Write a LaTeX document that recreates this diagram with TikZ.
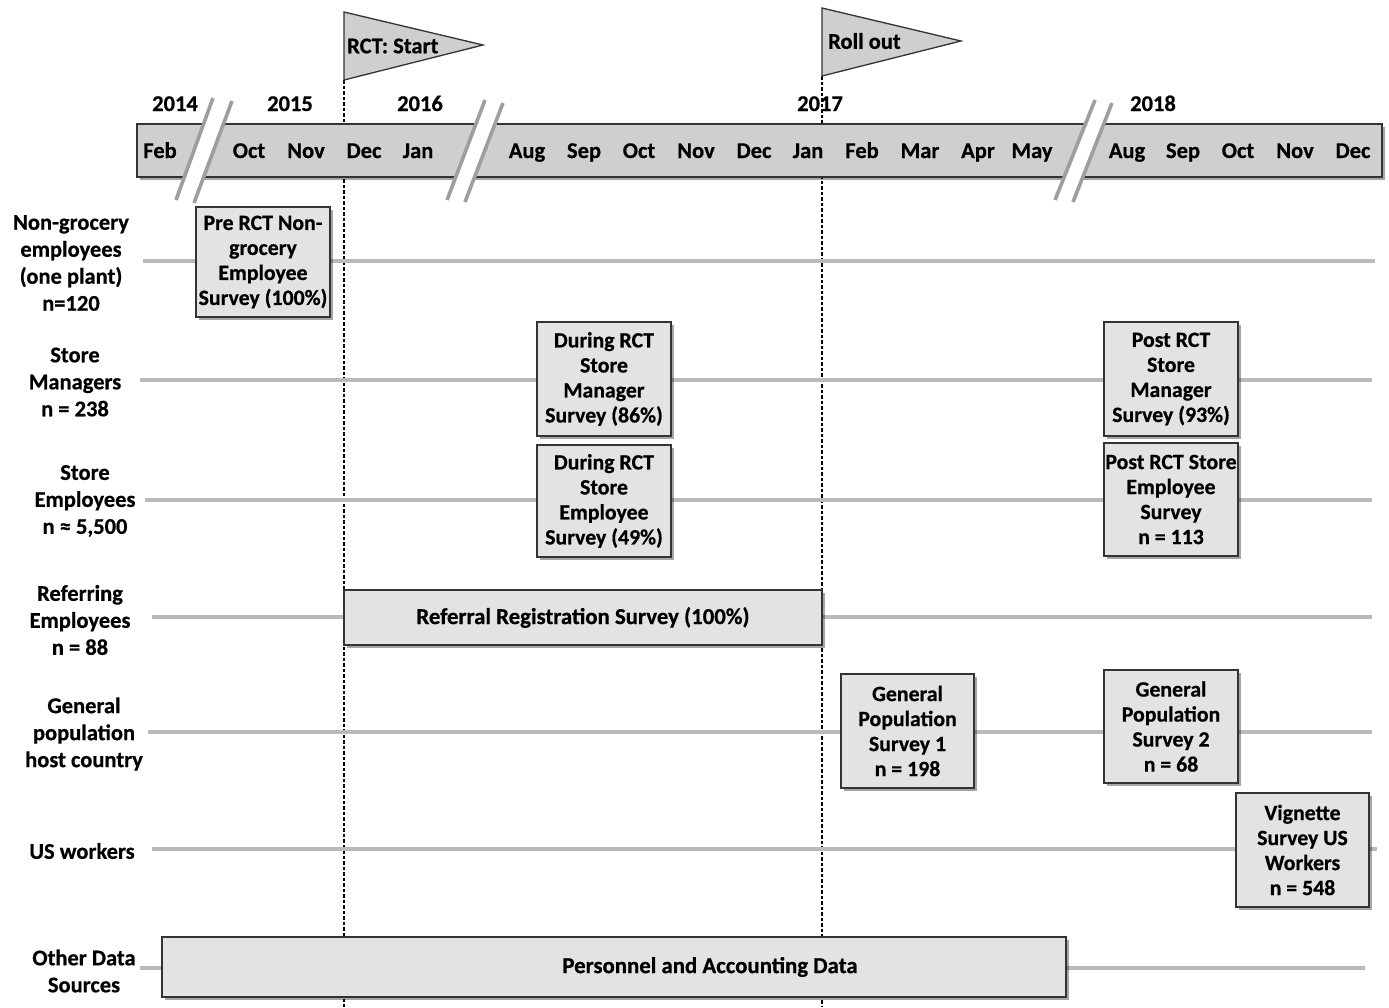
\documentclass[tikz,border=0pt]{standalone}
\usepackage{fontspec}
\setmainfont{Carlito}[BoldFeatures={FakeBold=0.6}]
\usepackage{xcolor}
\usepackage{tikz}
\usetikzlibrary{positioning,calc,shadows}

\definecolor{barfill}{gray}{0.81}
\definecolor{boxfill}{gray}{0.89}
\definecolor{rowgray}{gray}{0.73}
\definecolor{breakgray}{gray}{0.62}
\definecolor{edgegray}{gray}{0.2}

\tikzset{
  txt/.style={font=\fontsize{22.5}{25}\selectfont\bfseries},
  survey/.style={font=\fontsize{21.8}{25}\selectfont\bfseries, draw=edgegray, line width=1.6pt,
    fill=boxfill, align=center, inner sep=0.5pt,
    drop shadow={shadow xshift=2.5pt, shadow yshift=-2.5pt, opacity=0.35, fill=black}},
  rowlab/.style={font=\fontsize{22.5}{27}\selectfont\bfseries, align=center, inner sep=0pt},
  month/.style={txt, text height=15pt, text depth=5pt, inner sep=0pt},
  rowline/.style={rowgray, line width=3.2pt},
  rctline/.style={black, line width=1.2pt, dash pattern=on 3.5pt off 2pt},
  flag/.style={draw=edgegray, line width=1.3pt, fill=barfill},
  brk/.style={breakgray, line width=3.6pt}
}

\begin{document}
\begin{tikzpicture}[x=1pt,y=-1pt]
  \useasboundingbox (0,0) rectangle (1389,1007);

  % dashed markers
  \coordinate (rcttop) at (344,80);  \coordinate (rctbot) at (344,1007);
  \coordinate (rolltop) at (822,76); \coordinate (rollbot) at (822,1007);
  \draw[rctline] (rcttop) -- (rctbot);
  \draw[rctline] (rolltop) -- (rollbot);

  % group rules
  \foreach \y/\a/\b [count=\i] in {261/143/1375, 380/140/1372, 500/145/1372, 617/152/1372,
                                   732/148/1372, 849/152/1377, 968/140/1365}{
    \coordinate (rw\i) at (\a,\y);
    \coordinate (re\i) at (\b,\y);
    \draw[rowline] (rw\i) -- (re\i);
  }

  % time bar
  \node[draw=edgegray, line width=1.6pt, fill=barfill, minimum width=1245pt, minimum height=53pt,
        inner sep=0pt, drop shadow={shadow xshift=2.5pt, shadow yshift=-2.5pt, opacity=0.35, fill=black}]
        (bar) at (759.5,150.5) {};
  \foreach \x/\m in {160/Feb, 249/Oct, 306/Nov, 364/Dec, 418/Jan, 527/Aug, 584/Sep, 639/Oct,
                     696/Nov, 754/Dec, 808/Jan, 862/Feb, 920/Mar, 978/Apr, 1032/May,
                     1127/Aug, 1183/Sep, 1238/Oct, 1295/Nov, 1353/Dec}
    \node[month] (m\x) at (\x,153) {\m};
  \foreach \x/\yr in {175/2014, 290/2015, 420/2016, 820/2017, 1153/2018}
    \node[month] (yr\yr) at (\x,106) {\yr};

  % breaks
  \fill[white] (213,98) -- (232,101) -- (194,203) -- (176,200) -- cycle;
  \draw[brk] (213,98) -- (176,200);
  \draw[brk] (232,101) -- (194,203);
  \fill[white] (485,100) -- (503,103) -- (465,202) -- (447,200) -- cycle;
  \draw[brk] (485,100) -- (447,200);
  \draw[brk] (503,103) -- (465,202);
  \fill[white] (1095,100) -- (1112,103) -- (1073,202) -- (1055,200) -- cycle;
  \draw[brk] (1095,100) -- (1055,200);
  \draw[brk] (1112,103) -- (1073,202);

  % flags
  \draw[flag] (344,80) -- (344,12) -- (483,45) -- cycle;
  \node[txt, anchor=west, inner sep=0pt] (rctstart) at (347,46) {RCT: Start};
  \draw[flag] (822,76) -- (822,8) -- (961,41) -- cycle;
  \node[txt, anchor=west, inner sep=0pt] (rollout) at (828,41) {Roll out};

  % groups
  \node[rowlab] (ngroc) at (71,263) {Non-grocery\\employees\\(one plant)\\n=120};
  \node[rowlab] (smgr) at (75,382) {Store\\Managers\\n = 238};
  \node[rowlab] (semp) at (85,501) {Store\\Employees\\n ≈ 5,500};
  \node[rowlab] (refemp) at (80,620) {Referring\\Employees\\n = 88};
  \node[rowlab] (genpop) at (84,734) {General\\population\\host country};
  \node[rowlab] (usw) at (82,851) {US workers};
  \node[rowlab] (other) at (84,971) {Other Data\\Sources};

  % surveys
  \node[survey, minimum width=134pt, minimum height=110pt] (prerct) at (263,262)
    {Pre RCT Non-\\grocery\\Employee\\Survey (100\%)};
  \node[survey, minimum width=134pt, minimum height=114pt] (dursm) at (604,379)
    {During RCT\\Store\\Manager\\Survey (86\%)};
  \node[survey, minimum width=134pt, minimum height=112pt] (durse) at (604,501)
    {During RCT\\Store\\Employee\\Survey (49\%)};
  \node[survey, minimum width=134pt, minimum height=114pt] (postsm) at (1171,379)
    {Post RCT\\Store\\Manager\\Survey (93\%)};
  \node[survey, minimum width=134pt, minimum height=113pt] (postse) at (1171,499.5)
    {Post RCT Store\\Employee\\Survey\\n = 113};
  \node[survey, font=\fontsize{22.8}{25}\selectfont\bfseries, minimum width=478pt, minimum height=55pt]
    (referral) at (583,617.5) {Referral Registration Survey (100\%)};
  \node[survey, minimum width=133pt, minimum height=114pt] (gp1) at (907.5,731)
    {General\\Population\\Survey 1\\n = 198};
  \node[survey, minimum width=134pt, minimum height=113pt] (gp2) at (1171,726.5)
    {General\\Population\\Survey 2\\n = 68};
  \node[survey, minimum width=133pt, minimum height=114pt] (vign) at (1302.5,850)
    {Vignette\\Survey US\\Workers\\n = 548};
  \node[survey, font=\fontsize{22.8}{25}\selectfont\bfseries, minimum width=904pt, minimum height=60pt]
    (personnel) at (614,967) {\hspace*{192pt}Personnel and Accounting Data};
\end{tikzpicture}
\end{document}
